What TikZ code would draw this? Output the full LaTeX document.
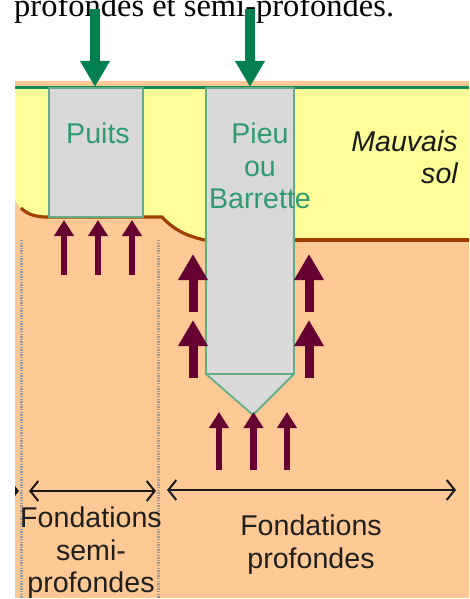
\documentclass[tikz,border=0pt]{standalone}
\usepackage{fontspec}
\setmainfont{Liberation Sans}
\newfontfamily\serifnote{Liberation Serif}
\usetikzlibrary{arrows.meta}
\definecolor{soilorange}{HTML}{FFC996}
\definecolor{soilyellow}{HTML}{FFFF99}
\definecolor{shaftgray}{HTML}{D9D9D9}
\definecolor{shaftgreen}{HTML}{5FAE86}
\definecolor{loadgreen}{HTML}{00804F}
\definecolor{labelgreen}{HTML}{2F9A70}
\definecolor{reactpurple}{HTML}{660033}
\definecolor{groundbrown}{HTML}{A04000}
\tikzset{
	biglabel/.style={font=\fontsize{28.6}{32}\selectfont, anchor=base, inner sep=0pt},
	shaftline/.style={draw=shaftgreen, fill=shaftgray, line width=1.8pt},
	loadarrow/.style={-{Triangle[length=26pt,width=28pt]}, loadgreen, line width=10pt},
	bigreact/.style={-{Triangle[length=26pt,width=28pt]}, reactpurple, line width=9pt},
	smallreact/.style={-{Triangle[length=16pt,width=19pt]}, reactpurple, line width=6.5pt},
	spanarrow/.style={{Straight Barb[length=8pt,width=20pt]}-{Straight Barb[length=8pt,width=20pt]}, black!90, line width=2pt},
	zoneline/.style={black!40, line width=2.2pt, dash pattern=on 1.4pt off 1.2pt}
}
\begin{document}
\begin{tikzpicture}[x=1pt, y=-1pt]
	\useasboundingbox (0,0) rectangle (469,599);

	% Caption line
	\node[anchor=base west, inner sep=0pt, font=\serifnote\fontsize{32.5}{36}\selectfont, text=black] (caption) at (14,17) {profondes et semi-profondes.};

	% Soil layers
	\fill[soilorange] (15,81) rectangle (469,598);
	\fill[soilyellow] (15,87) -- (469,87) -- (469,240) -- (295,240) -- (205,240) .. controls (185,236) and (172,228) .. (162,217) -- (45,217) .. controls (30,217) and (20,210) .. (15,200) -- cycle;
	\draw[groundbrown, line width=3.2pt] (21,208) .. controls (27,214) and (35,217) .. (47,217) -- (162,217) .. controls (172,228) and (185,236) .. (205,240);
	\draw[groundbrown, line width=3.6pt] (295,240) -- (469,240);
	\draw[loadgreen!80!shaftgreen, line width=2.4pt] (15,87.5) -- (469,87.5);

	% Zone limits
	\draw[zoneline] (21.5,240) -- (21.5,598);
	\draw[zoneline] (158.5,240) -- (158.5,598);

	% Foundations
	\filldraw[shaftline] (49,88) rectangle (143,217);
	\filldraw[shaftline] (206,88) -- (294,88) -- (294,374) -- (253,415) -- (206,374) -- cycle;
	\draw[shaftline, fill=none] (206,374) -- (294,374);

	% Load arrows
	\foreach \xpos in {95,250}
		\draw[loadarrow] (\xpos,9) -- (\xpos,87);

	% Reaction arrows
	\foreach \xpos in {64,98,132}
		\draw[smallreact] (\xpos,275) -- (\xpos,220);
	\foreach \xpos in {219,253.5,287}
		\draw[smallreact] (\xpos,470) -- (\xpos,412);
	\foreach \xpos in {193,309} {
		\draw[bigreact] (\xpos,312) -- (\xpos,254);
		\draw[bigreact] (\xpos,378) -- (\xpos,320);
	}

	% Span arrows
	\draw[spanarrow] (29,491) -- (156,491);
	\draw[spanarrow] (167,490) -- (456,490);
	\fill[black!90] (15,486) -- (19,491) -- (15,496) -- cycle;

	% Labels
	\node[biglabel, text=labelgreen] (puits) at (98,143) {Puits};
	\node[biglabel, text=labelgreen] (pieu) at (260,143) {Pieu};
	\node[biglabel, text=labelgreen] (ou) at (260,176) {ou};
	\node[biglabel, text=labelgreen] (barrette) at (260,208) {Barrette};
	\node[biglabel, anchor=base east, font=\fontsize{28.6}{32}\selectfont\itshape, text=black!90] (mauvais) at (458,151) {Mauvais};
	\node[biglabel, anchor=base east, font=\fontsize{28.6}{32}\selectfont\itshape, text=black!90] (sol) at (458,183) {sol};
	\node[biglabel, text=black!88] (semifond) at (91,527) {Fondations};
	\node[biglabel, text=black!88] (semimid) at (91,560) {semi-};
	\node[biglabel, text=black!88] (semiprof) at (91,592) {profondes};
	\node[biglabel, text=black!88] (deepfond) at (311,535) {Fondations};
	\node[biglabel, text=black!88] (deepprof) at (311,568) {profondes};
\end{tikzpicture}
\end{document}
